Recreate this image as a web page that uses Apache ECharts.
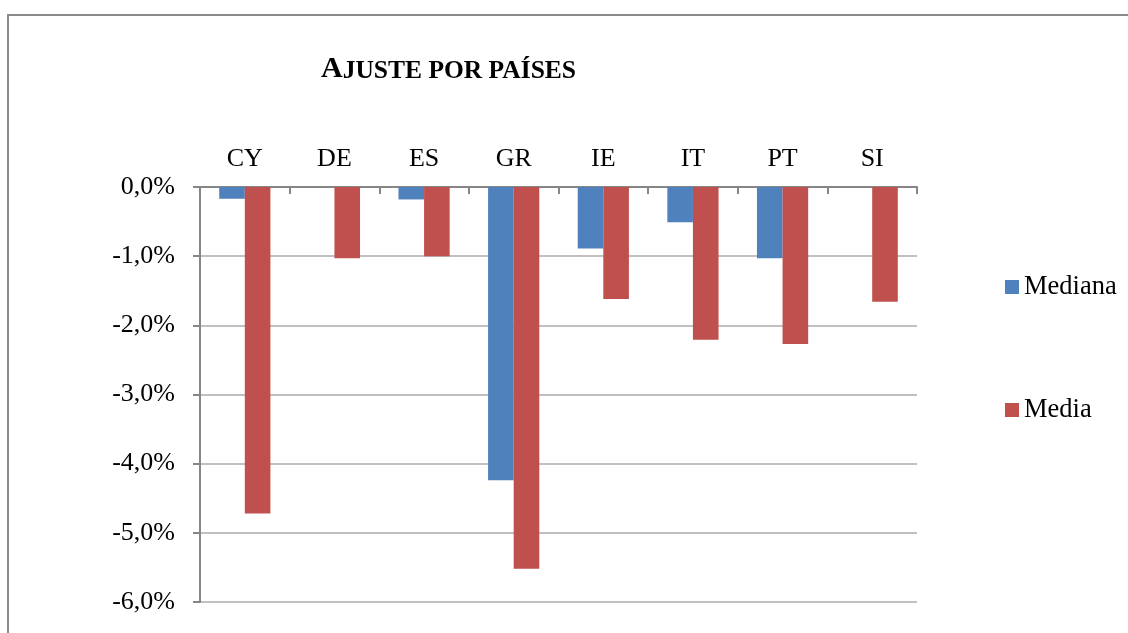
<!DOCTYPE html>
<html>
<head>
<meta charset="utf-8">
<script src="https://cdn.jsdelivr.net/npm/echarts@6/dist/echarts.min.js"></script>
<style>
  html, body { margin: 0; padding: 0; background: #ffffff; }
  #chart { width: 1128px; height: 633px; }
</style>
</head>
<body>
<div id="chart"></div>
<script>
// Country codes shown along the top axis
const countries = ['CY', 'DE', 'ES', 'GR', 'IE', 'IT', 'PT', 'SI'];
// Adjustment by country, in percent
const mediana = [-0.17, 0, -0.18, -4.24, -0.89, -0.51, -1.03, 0];
const media   = [-4.72, -1.03, -1.00, -5.52, -1.62, -2.21, -2.27, -1.66];
// Value axis range and step (percent)
const yMin = -6;
const yMax = 0;
const yStep = 1;

const serif = '"Liberation Serif", "Times New Roman", Times, serif';
const axisGray = '#868686';

const chart = echarts.init(document.getElementById('chart'), null, { renderer: 'canvas' });

chart.setOption({
  backgroundColor: '#ffffff',
  animation: false,
  graphic: [{
    type: 'rect',
    shape: { x: 8, y: 15, width: 1300, height: 800 },
    style: { fill: 'none', stroke: '#8a8a8a', lineWidth: 2 },
    silent: true,
    z: -1
  }],
  title: {
    left: 321,
    top: 48,
    padding: 0,
    text: '{big|A}{small|JUSTE POR PAÍSES}',
    textStyle: {
      rich: {
        big: { fontFamily: serif, fontWeight: 'bold', fontSize: 30, color: '#000', verticalAlign: 'bottom', lineHeight: 36 },
        small: { fontFamily: serif, fontWeight: 'bold', fontSize: 25.5, color: '#000', verticalAlign: 'bottom', lineHeight: 36 }
      }
    }
  },
  legend: {
    orient: 'vertical',
    left: 1005,
    top: 272,
    padding: 0,
    itemWidth: 14,
    itemHeight: 14,
    itemGap: 93,
    icon: 'rect',
    textStyle: { fontFamily: serif, fontSize: 26.5, color: '#000', lineHeight: 30 },
    data: ['Mediana', 'Media']
  },
  grid: {
    left: 200,
    right: 211,
    top: 187,
    bottom: 31,
    containLabel: false
  },
  xAxis: {
    type: 'category',
    position: 'top',
    data: countries,
    axisLine: { onZero: false, lineStyle: { color: axisGray, width: 2 } },
    axisTick: { show: true, inside: true, length: 7, lineStyle: { color: axisGray, width: 2 } },
    axisLabel: { fontFamily: serif, fontSize: 26, color: '#000', margin: 15 },
    splitLine: { show: false }
  },
  yAxis: {
    type: 'value',
    min: yMin,
    max: yMax,
    interval: yStep,
    axisLine: { show: true, lineStyle: { color: axisGray, width: 2 } },
    axisTick: { show: true, length: 7, lineStyle: { color: axisGray, width: 2 } },
    axisLabel: {
      fontFamily: serif,
      fontSize: 26,
      color: '#000',
      margin: 25,
      formatter: function (v) {
        const s = Math.abs(v) < 1e-9 ? '0,0' : v.toFixed(1).replace('.', ',');
        return s + '%';
      }
    },
    splitLine: { show: true, lineStyle: { color: '#c0c0c0', width: 2 } }
  },
  series: [
    {
      name: 'Mediana',
      type: 'bar',
      data: mediana,
      barWidth: 25.6,
      barGap: '0%',
      itemStyle: { color: '#4f81bd' }
    },
    {
      name: 'Media',
      type: 'bar',
      data: media,
      barWidth: 25.6,
      barGap: '0%',
      itemStyle: { color: '#c0504d' }
    }
  ]
});
</script>
</body>
</html>
